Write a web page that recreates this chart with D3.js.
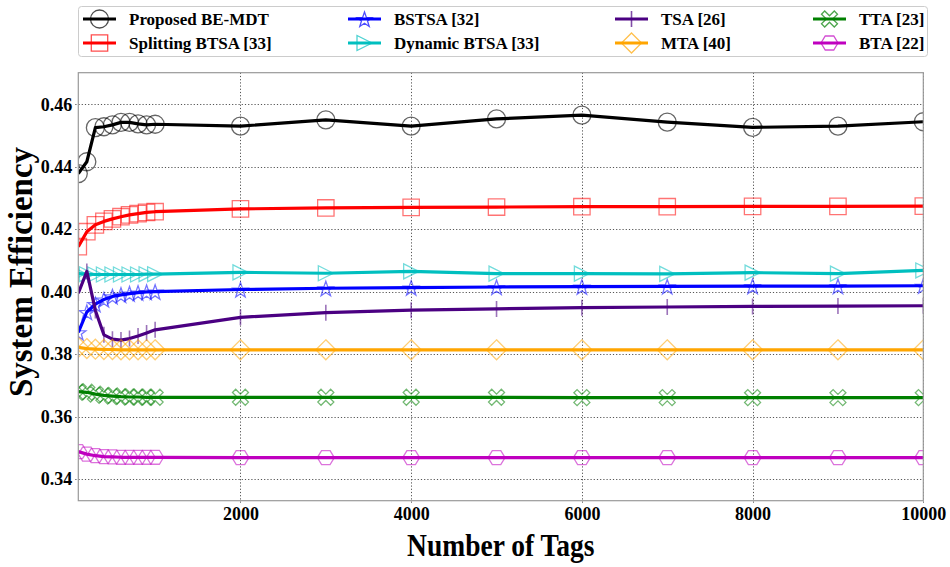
<!DOCTYPE html>
<html>
<head>
<meta charset="utf-8">
<script src="https://cdn.jsdelivr.net/npm/d3@7"></script>
<style>
  body { margin: 0; background: #fff; }
  svg { display: block; }
  text { font-family: "Liberation Serif", "Times New Roman", serif; font-weight: bold; fill: #000; }
</style>
</head>
<body>
<svg id="chart" width="950" height="567"></svg>
<script>
// Number of tags at each simulated point
const tagCounts = [100, 200, 300, 400, 500, 600, 700, 800, 900, 1000,
                   2000, 3000, 4000, 5000, 6000, 7000, 8000, 9000, 10000];

// System efficiency for each protocol
const proposedBEMDT = [0.4378, 0.4416, 0.4525, 0.4528, 0.4534, 0.4542, 0.4542, 0.4537, 0.4534, 0.4536,
                       0.4530, 0.4550, 0.4530, 0.4553, 0.4565, 0.4543, 0.4526, 0.4530, 0.4544];
const splittingBTSA = [0.4144, 0.4192, 0.4214, 0.4225, 0.4233, 0.4240, 0.4246, 0.4250, 0.4254, 0.4256,
                       0.4265, 0.4268, 0.4270, 0.4271, 0.4272, 0.4272, 0.4273, 0.4273, 0.4274];
const bstsa         = [0.3870, 0.3935, 0.3960, 0.3975, 0.3985, 0.3990, 0.3994, 0.3997, 0.3999, 0.4000,
                       0.4007, 0.4011, 0.4013, 0.4015, 0.4016, 0.4017, 0.4018, 0.4018, 0.4019];
const dynamicBTSA   = [0.4058, 0.4056, 0.4055, 0.4055, 0.4055, 0.4055, 0.4055, 0.4055, 0.4056, 0.4056,
                       0.4062, 0.4059, 0.4065, 0.4058, 0.4058, 0.4057, 0.4061, 0.4058, 0.4068];
const tsa           = [0.3995, 0.4065, 0.3940, 0.3862, 0.3848, 0.3845, 0.3850, 0.3858, 0.3868, 0.3878,
                       0.3918, 0.3933, 0.3941, 0.3945, 0.3949, 0.3951, 0.3953, 0.3954, 0.3955];
const mta           = [0.3822, 0.3818, 0.3816, 0.3815, 0.3815, 0.3814, 0.3814, 0.3814, 0.3814, 0.3814,
                       0.3814, 0.3814, 0.3814, 0.3814, 0.3814, 0.3814, 0.3814, 0.3814, 0.3814];
const tta           = [0.3680, 0.3678, 0.3672, 0.3668, 0.3666, 0.3664, 0.3663, 0.3663, 0.3662, 0.3662,
                       0.3662, 0.3662, 0.3662, 0.3662, 0.3661, 0.3661, 0.3661, 0.3661, 0.3661];
const bta           = [0.3488, 0.3480, 0.3475, 0.3472, 0.3471, 0.3470, 0.3470, 0.3470, 0.3470, 0.3470,
                       0.3469, 0.3469, 0.3469, 0.3469, 0.3469, 0.3469, 0.3469, 0.3469, 0.3469];

const seriesNames = ["Proposed BE-MDT", "Splitting BTSA [33]", "BSTSA [32]", "Dynamic BTSA [33]",
                     "TSA [26]", "MTA [40]", "TTA [23]", "BTA [22]"];
const seriesValues = [proposedBEMDT, splittingBTSA, bstsa, dynamicBTSA, tsa, mta, tta, bta];

const xTicks = [2000, 4000, 6000, 8000, 10000];
const yTicks = [0.34, 0.36, 0.38, 0.40, 0.42, 0.44, 0.46];

// Styling per series (colour and marker shape)
const styles = [
  { color: "#000000", marker: "circle" },
  { color: "#ff0000", marker: "square" },
  { color: "#0000ff", marker: "star" },
  { color: "#00bfbf", marker: "triRight" },
  { color: "#4b0082", marker: "vline" },
  { color: "#ffa500", marker: "diamond" },
  { color: "#008000", marker: "xFilled" },
  { color: "#bf00bf", marker: "hexagon" }
];

const svg = d3.select("#chart");
const W = 950, H = 567;
const plot = { left: 78.3, right: 923.3, top: 72.7, bottom: 500.7 };

const x = d3.scaleLinear().domain([100, 10000]).range([plot.left, plot.right]);
const y = d3.scaleLinear().domain([0.3331, 0.4701]).range([plot.bottom, plot.top]);

// Marker path generators, centred at (0,0)
function polygon(pts) { return "M" + pts.map(p => p[0].toFixed(2) + "," + p[1].toFixed(2)).join("L") + "Z"; }
function markerPath(kind) {
  switch (kind) {
    case "circle": {
      const r = 9;
      return `M${r},0A${r},${r} 0 1,1 ${-r},0A${r},${r} 0 1,1 ${r},0Z`;
    }
    case "square": { const s = 8.2; return polygon([[-s,-s],[s,-s],[s,s],[-s,s]]); }
    case "diamond": { const s = 10; return polygon([[0,-s],[s,0],[0,s],[-s,0]]); }
    case "triRight": { const s = 7.5; return polygon([[s,0],[-s,-s],[-s,s]]); }
    case "star": {
      const pts = [], ro = 8, ri = 3.2;
      for (let i = 0; i < 10; i++) {
        const a = -Math.PI / 2 + i * Math.PI / 5, r = i % 2 ? ri : ro;
        pts.push([r * Math.cos(a), r * Math.sin(a) + 1]);
      }
      return polygon(pts);
    }
    case "hexagon": {
      const pts = [], r = 8.5;
      for (let i = 0; i < 6; i++) { const a = i * Math.PI / 3; pts.push([r * Math.cos(a), r * Math.sin(a) * 0.95]); }
      return polygon(pts);
    }
    case "xFilled": {
      const a = 8, b = 3.2;
      return polygon([[-a,-a+b],[-a+b,-a],[0,-b],[a-b,-a],[a,-a+b],[b,0],[a,a-b],[a-b,a],[0,b],[-a+b,a],[-a,a-b],[-b,0]]);
    }
    case "vline": return "M0,-8L0,8";
  }
}

// Background
svg.append("rect").attr("x", 0).attr("y", 0).attr("width", W).attr("height", H).attr("fill", "#fff");

// Grid lines
const grid = svg.append("g").attr("stroke", "#555").attr("stroke-width", 1).attr("stroke-dasharray", "1.2,2");
grid.selectAll("line.gy").data(yTicks).join("line")
  .attr("x1", plot.left - 3).attr("x2", plot.right)
  .attr("y1", d => Math.round(y(d)) + 0.5).attr("y2", d => Math.round(y(d)) + 0.5);
grid.selectAll("line.gx").data(xTicks).join("line")
  .attr("y1", plot.top).attr("y2", plot.bottom + 3)
  .attr("x1", d => Math.round(x(d)) + 0.5).attr("x2", d => Math.round(x(d)) + 0.5);

// Clip for data
svg.append("clipPath").attr("id", "clip").append("rect")
  .attr("x", plot.left).attr("y", plot.top)
  .attr("width", plot.right - plot.left).attr("height", plot.bottom - plot.top);

const line = d3.line().x((d, i) => x(tagCounts[i])).y(d => y(d));
const dataG = svg.append("g").attr("clip-path", "url(#clip)");

seriesValues.forEach((vals, k) => {
  const st = styles[k];
  const g = dataG.append("g");
  g.append("path").datum(vals).attr("d", line)
    .attr("fill", "none").attr("stroke", st.color).attr("stroke-width", 3.2)
    .attr("stroke-linejoin", "round");
  g.selectAll("path.m").data(vals).join("path").attr("class", "m")
    .attr("transform", (d, i) => `translate(${x(tagCounts[i])},${y(d)})`)
    .attr("d", markerPath(st.marker))
    .attr("fill", "none").attr("stroke", st.color)
    .attr("stroke-opacity", st.marker === "circle" ? 0.6 : 0.55)
    .attr("stroke-width", st.marker === "vline" ? 1.6 : 1.3);
});

// Frame
svg.append("rect").attr("x", plot.left).attr("y", plot.top)
  .attr("width", plot.right - plot.left).attr("height", plot.bottom - plot.top)
  .attr("fill", "none").attr("stroke", "#999").attr("stroke-width", 1.2);

// Tick labels via d3 axes (axis lines hidden, text kept)
const xAxis = d3.axisBottom(x).tickValues(xTicks).tickSize(0).tickPadding(7).tickFormat(d3.format("d"));
const yAxis = d3.axisLeft(y).tickValues(yTicks).tickSize(0).tickPadding(6).tickFormat(d3.format(".2f"));
const gx = svg.append("g").attr("transform", `translate(0,${plot.bottom})`).call(xAxis);
const gy = svg.append("g").attr("transform", `translate(${plot.left},0)`).call(yAxis);
[gx, gy].forEach(g => {
  g.select(".domain").remove();
  g.selectAll("text").style("font-family", '"Liberation Serif", serif').style("font-weight", "bold")
    .style("font-size", "18px").attr("fill", "#000");
});

// Axis titles
svg.append("text").attr("transform", `translate(${(plot.left + plot.right) / 2},556) scale(0.86,1)`)
  .attr("text-anchor", "middle").style("font-size", "32px").text("Number of Tags");
svg.append("text").attr("transform", `translate(32,272) rotate(-90)`)
  .attr("text-anchor", "middle").style("font-size", "33px").text("System Efficiency");

// Legend
const legend = svg.append("g");
legend.append("rect").attr("x", 78.5).attr("y", 6.5).attr("width", 849).attr("height", 50)
  .attr("rx", 3).attr("fill", "#fff").attr("stroke", "#ccc").attr("stroke-width", 1);
const colX = [83, 348, 615, 813];
const rowY = [19, 43];
seriesNames.forEach((name, k) => {
  const col = Math.floor(k / 2), row = k % 2;
  const lx = colX[col], ly = rowY[row];
  const st = styles[k];
  const g = legend.append("g").attr("transform", `translate(${lx},${ly})`);
  g.append("line").attr("x1", 0).attr("x2", 33).attr("y1", 0).attr("y2", 0)
    .attr("stroke", st.color).attr("stroke-width", 3.2);
  g.append("path").attr("transform", "translate(16.5,0)").attr("d", markerPath(st.marker))
    .attr("fill", "none").attr("stroke", st.color).attr("stroke-opacity", 0.7)
    .attr("stroke-width", st.marker === "vline" ? 1.6 : 1.3);
  g.append("text").attr("x", 46).attr("y", 5.5).style("font-size", "17px").text(name);
});
</script>
</body>
</html>
